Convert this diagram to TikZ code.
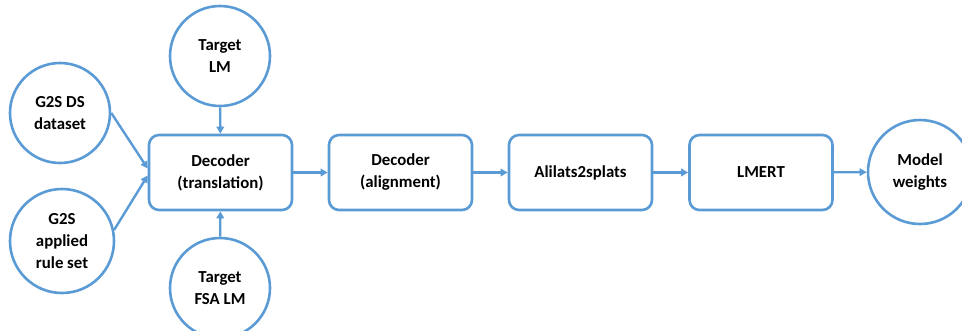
\documentclass[tikz,border=0pt]{standalone}
\usepackage{fontspec}
\setmainfont{Carlito}
\usetikzlibrary{arrows.meta}
\definecolor{lineblue}{RGB}{91,155,213}
\tikzset{
  base/.style={draw=lineblue, line width=2.6pt, fill=white, align=center,
    font=\fontsize{16.8}{22}\selectfont\bfseries, text=black, inner sep=0pt},
  circ/.style={base, circle, minimum size=100pt},
  procbox/.style={base, rectangle, rounded corners=10pt, minimum width=143pt, minimum height=75pt},
  arr/.style={draw=lineblue, line width=2.4pt, -{Triangle[length=7pt,width=7.5pt]}}
}
\begin{document}
\begin{tikzpicture}[x=1pt,y=-1pt]
\useasboundingbox (0,0) rectangle (962,330);
\clip (0,0) rectangle (962,330);
\node[procbox] (dec) at (220.5,172.5) {Decoder\\(translation)};
\node[procbox] (ali) at (400.5,172.5) {Decoder\\(alignment)};
\node[procbox] (a2s) at (580.5,172.5) {Alilats2splats};
\node[procbox] (lmert) at (761,172.5) {LMERT};
\node[circ] (ds) at (60,113) {G2S DS\\dataset};
\node[circ, minimum size=104pt] (rules) at (62,241) {G2S\\applied\\rule set};
\node[circ] (tlm) at (220,56) {Target\\LM};
\node[circ] (fsa) at (220,288) {Target\\FSA LM};
\node[circ, minimum size=104pt] (mw) at (920,172) {Model\\weights};
\draw[arr] (ds.east) -- ([yshift=4pt]dec.west);
\draw[arr] (rules.12) -- ([yshift=-3pt]dec.west);
\draw[arr] (tlm) -- (dec);
\draw[arr] (fsa) -- (dec);
\draw[arr] (dec) -- (ali);
\draw[arr] (ali) -- (a2s);
\draw[arr] (a2s) -- (lmert);
\draw[arr] (lmert) -- (mw);
\end{tikzpicture}
\end{document}
